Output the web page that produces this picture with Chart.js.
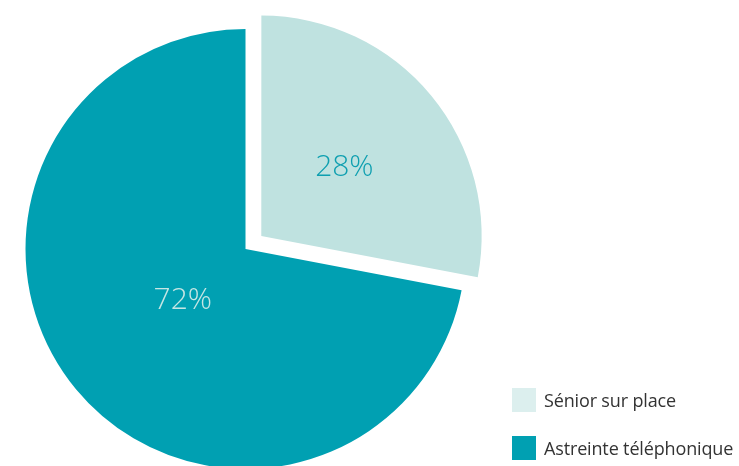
<!DOCTYPE html>
<html>
<head>
<meta charset="utf-8">
<script src="https://cdn.jsdelivr.net/npm/chart.js@4"></script>
<style>
  html, body { margin: 0; padding: 0; background: #fff; overflow: hidden; }
  #wrap { position: relative; width: 739px; height: 466px; }
  #legend { position: absolute; left: 512px; top: 388px; font-family: "Open Sans", sans-serif; font-size: 18px; letter-spacing: -0.15px; color: #333; }
  .item { display: flex; align-items: center; height: 24px; margin-bottom: 24px; white-space: nowrap; }
  .box { width: 24px; height: 24px; margin-right: 8px; }
</style>
</head>
<body>
<div id="wrap">
  <canvas id="myChart" width="739" height="466"></canvas>
  <div id="legend"></div>
</div>
<script>
const labels = ["Sénior sur place", "Astreinte téléphonique"];
const values = [28, 72];
const sliceColors = ["#bfe2e0", "#00a0b2"];
const legendColors = ["#dcefee", "#00a0b2"];
const labelColors = ["#0e9fb0", "#c7e6e4"];
const labelRadius = [0.49, 0.37];

// draws the percentages inside the slices
const sliceLabels = {
    id: "sliceLabels",
    afterDatasetsDraw(chart) {
        const ctx = chart.ctx;
        const meta = chart.getDatasetMeta(0);
        const total = values.reduce((a, b) => a + b, 0);
        ctx.save();
        ctx.font = "300 30px 'Open Sans', sans-serif";
        ctx.textAlign = "center";
        ctx.textBaseline = "middle";
        meta.data.forEach((arc, i) => {
            const p = arc.getProps(["x", "y", "startAngle", "endAngle", "outerRadius"], true);
            const mid = (p.startAngle + p.endAngle) / 2;
            const off = (arc.options.offset || 0) / 4; // arc element shifts by offset/4
            const r = p.outerRadius * labelRadius[i];
            const x = p.x + Math.cos(mid) * (r + off);
            const y = p.y + Math.sin(mid) * (r + off);
            ctx.fillStyle = labelColors[i];
            ctx.fillText(Math.round(values[i] / total * 100) + "%", x, y);
        });
        ctx.restore();
    }
};

const myChart = new Chart(document.getElementById("myChart"), {
    type: "pie",
    data: {
        labels: labels,
        datasets: [{
            data: values,
            backgroundColor: sliceColors,
            borderWidth: 0,
            offset: [82, 0],
            hoverOffset: 0
        }]
    },
    options: {
        responsive: false,
        animation: false,
        radius: 220,
        layout: { padding: { left: 0, right: 248, top: 32, bottom: 0 } },
        plugins: {
            legend: { display: false },
            tooltip: { enabled: false }
        }
    },
    plugins: [sliceLabels]
});

const legend = document.getElementById("legend");
labels.forEach((l, i) => {
    const item = document.createElement("div");
    item.className = "item";
    item.innerHTML = '<span class="box" style="background:' + legendColors[i] + '"></span><span>' + l + '</span>';
    legend.appendChild(item);
});
</script>
</body>
</html>
